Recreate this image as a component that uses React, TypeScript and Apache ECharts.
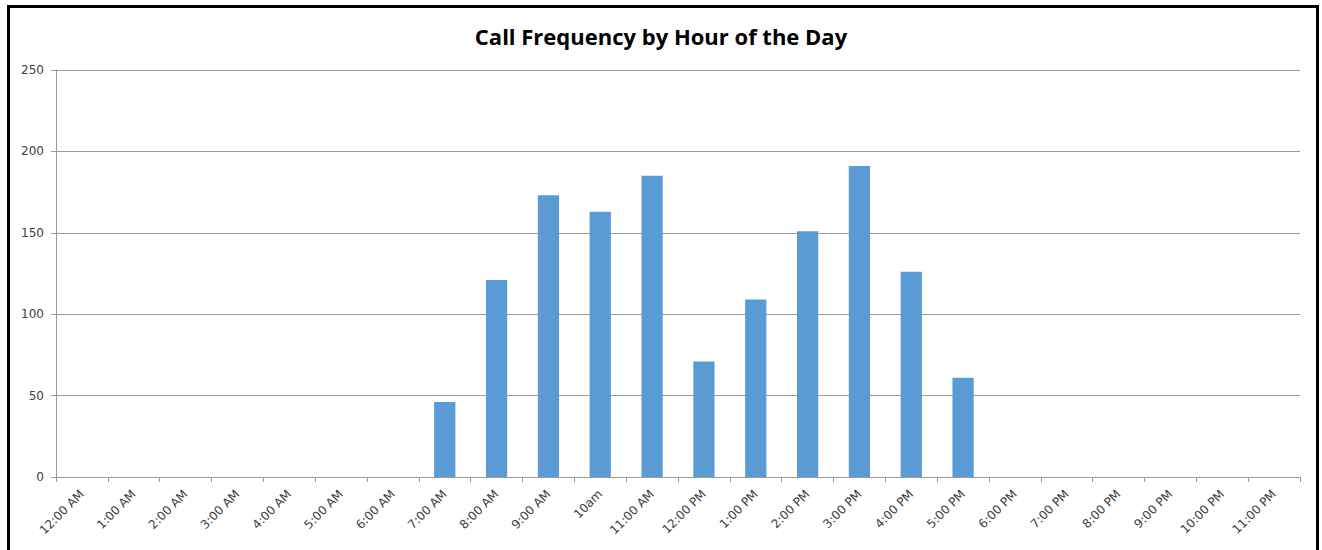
import React, { useEffect, useRef } from "react";
import * as echarts from "echarts";

const categories = [
  "12:00 AM", "1:00 AM", "2:00 AM", "3:00 AM", "4:00 AM", "5:00 AM", "6:00 AM", "7:00 AM",
  "8:00 AM", "9:00 AM", "10am", "11:00 AM", "12:00 PM", "1:00 PM", "2:00 PM", "3:00 PM",
  "4:00 PM", "5:00 PM", "6:00 PM", "7:00 PM", "8:00 PM", "9:00 PM", "10:00 PM", "11:00 PM",
];
const calls = [0, 0, 0, 0, 0, 0, 0, 46, 121, 173, 163, 185, 71, 109, 151, 191, 126, 61, 0, 0, 0, 0, 0, 0];
const titleText = "Call Frequency by Hour of the Day";

export default function App() {
  const ref = useRef<HTMLDivElement>(null);
  useEffect(() => {
    if (!ref.current) return;
    const chart = echarts.init(ref.current, undefined, { renderer: "svg" });
    chart.setOption({
      animation: false,
      backgroundColor: "transparent",
      title: {
        text: titleText,
        left: "center",
        top: 20,
        textStyle: { fontFamily: "Open Sans", fontWeight: "bold", fontSize: 22, color: "#000" },
      },
      grid: { left: 56, right: 22, top: 70, bottom: 73 },
      xAxis: {
        type: "category",
        data: categories,
        axisLine: { show: true, lineStyle: { color: "#9a9a9a", width: 1 } },
        axisTick: { show: true, length: 5, alignWithLabel: false, lineStyle: { color: "#9a9a9a" } },
        axisLabel: { rotate: 45, fontSize: 12, color: "#404040", fontFamily: "DejaVu Sans", margin: 15, interval: 0 },
      },
      yAxis: {
        type: "value",
        min: 0,
        max: 250,
        interval: 50,
        axisLine: { show: true, lineStyle: { color: "#9a9a9a", width: 1 } },
        axisTick: { show: true, length: 5, lineStyle: { color: "#9a9a9a" } },
        axisLabel: { fontSize: 12, color: "#404040", fontFamily: "DejaVu Sans", margin: 12 },
        splitLine: { show: true, lineStyle: { color: "#9a9a9a", width: 1 } },
      },
      series: [
        {
          type: "bar",
          data: calls,
          barWidth: "41%",
          itemStyle: { color: "#5b9bd5" },
        },
      ],
    });
    return () => chart.dispose();
  }, []);
  return (
    <div style={{ position: "absolute", left: 0, top: 0, width: 1322, height: 550, overflow: "hidden", background: "#fff" }}>
      <div
        style={{
          position: "absolute",
          left: 7,
          top: 5,
          width: 1306,
          height: 600,
          border: "3px solid #000",
        }}
      />
      <div ref={ref} style={{ position: "absolute", left: 0, top: 0, width: 1322, height: 550 }} />
    </div>
  );
}
